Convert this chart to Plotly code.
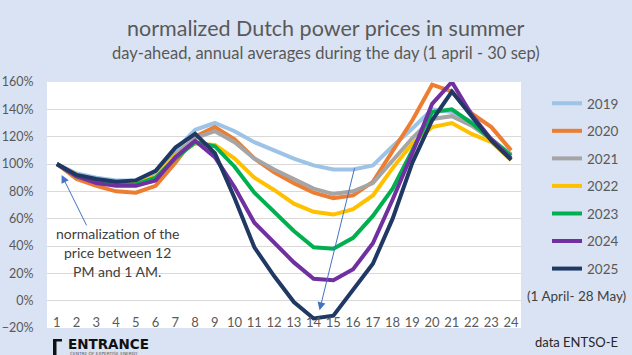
import plotly.graph_objects as go

hours = [1, 2, 3, 4, 5, 6, 7, 8, 9, 10, 11, 12, 13, 14, 15, 16, 17, 18, 19, 20, 21, 22, 23, 24]
years = ["2019", "2020", "2021", "2022", "2023", "2024", "2025"]
y2019 = [100, 93, 90, 88, 88, 93, 110, 125, 130, 124, 116, 110, 104, 99, 96, 96, 99, 113, 126, 140, 138, 131, 118, 106]
y2020 = [100, 89, 84, 80, 79, 84, 101, 120, 127, 118, 104, 94, 86, 79, 75, 77, 87, 109, 132, 158, 153, 137, 127, 110]
y2021 = [100, 92, 88, 86, 86, 91, 107, 119, 124, 116, 104, 96, 89, 82, 78, 80, 86, 102, 119, 133, 135, 128, 118, 107]
y2022 = [100, 92, 88, 86, 86, 91, 106, 115, 114, 104, 90, 81, 71, 65, 63, 67, 77, 97, 115, 127, 130, 122, 116, 103]
y2023 = [100, 91, 87, 85, 85, 90, 104, 116, 113, 98, 79, 65, 51, 39, 38, 46, 62, 82, 110, 138, 140, 130, 118, 106]
y2024 = [100, 91, 86, 84, 84, 88, 105, 117, 105, 83, 57, 42, 28, 16, 15, 23, 42, 74, 108, 144, 160, 136, 118, 104]
y2025 = [100, 92, 89, 87, 88, 95, 112, 122, 108, 75, 39, 18, -1, -13, -11, 8, 27, 60, 101, 132, 153, 135, 117, 103]
series = [y2019, y2020, y2021, y2022, y2023, y2024, y2025]
colors = ["#9DC3E6", "#ED7D31", "#A5A5A5", "#FFC000", "#00B050", "#7030A0", "#203864"]

FONT = "Lato"
TXT = "#595959"
W, H = 632, 355
L, R, T, B = 47, 111, 82, 27
PW, PH = W - L - R, H - T - B

def px(x):
    return (x - L) / PW

def py(y):
    return (H - B - y) / PH

fig = go.Figure()
for name, vals, c in zip(years, series, colors):
    fig.add_trace(go.Scatter(
        x=hours, y=vals, name=name, mode="lines", legendgroup=name,
        line=dict(color=c, width=4, shape="linear"),
    ))

ann = []
# title / subtitle
ann.append(dict(text="normalized Dutch power prices in summer", x=px(326), y=py(28),
                xref="paper", yref="paper", showarrow=False,
                font=dict(family=FONT, size=21.5, color=TXT), xanchor="center", yanchor="middle"))
ann.append(dict(text="day-ahead, annual averages during the day (1 april - 30 sep)", x=px(326), y=py(53),
                xref="paper", yref="paper", showarrow=False,
                font=dict(family=FONT, size=16.5, color=TXT), xanchor="center", yanchor="middle"))
# note text
for i, line in enumerate(["normalization of the", "price between 12", "PM and 1 AM."]):
    ann.append(dict(text=line, x=px(117), y=py(233 + 19 * i), xref="paper", yref="paper",
                    showarrow=False, font=dict(family=FONT, size=14, color="#404040"),
                    xanchor="center", yanchor="middle"))
# arrows
ann.append(dict(text="", x=1.24, y=92, ax=2.54, ay=54, xref="x", yref="y", axref="x", ayref="y",
                showarrow=True, arrowhead=2, arrowsize=1.6, arrowwidth=1, arrowcolor="#4472C4"))
ann.append(dict(text="", x=14.3, y=-7, ax=16.09, ay=98, xref="x", yref="y", axref="x", ayref="y",
                showarrow=True, arrowhead=2, arrowsize=1.6, arrowwidth=1, arrowcolor="#4472C4"))
# legend note
ann.append(dict(text="(1 April- 28 May)", x=px(576), y=py(296), xref="paper", yref="paper",
                showarrow=False, font=dict(family=FONT, size=13.5, color="#404040"),
                xanchor="center", yanchor="middle"))
# source
ann.append(dict(text="data ENTSO-E", x=px(620), y=py(342), xref="paper", yref="paper",
                showarrow=False, font=dict(family=FONT, size=13, color="#262626"),
                xanchor="right", yanchor="middle"))
# logo
ann.append(dict(text="<b>ENTRANCE</b>", x=px(66), y=py(343.5), xref="paper", yref="paper",
                showarrow=False, font=dict(family="DejaVu Sans", size=13.5, color="#111111"),
                xanchor="left", yanchor="middle"))
ann.append(dict(text="CENTRE OF EXPERTISE ENERGY", x=px(68), y=py(353), xref="paper", yref="paper",
                showarrow=False, font=dict(family="DejaVu Sans", size=4.3, color="#555555"),
                xanchor="left", yanchor="middle"))

shapes = [dict(type="path", xref="paper", yref="paper",
               path=(f"M{px(53)},{py(339)} L{px(62)},{py(339)} L{px(62)},{py(341.5)} L{px(56.5)},{py(341.5)} "
                     f"L{px(56.5)},{py(355)} L{px(53)},{py(355)} Z"),
               fillcolor="#111111", line=dict(width=0))]

fig.update_layout(
    width=W, height=H,
    margin=dict(l=L, r=R, t=T, b=B, pad=0, autoexpand=False),
    paper_bgcolor="#DAE3F3", plot_bgcolor="#FFFFFF",
    font=dict(family=FONT, color=TXT, size=13),
    showlegend=True,
    legend=dict(x=px(547), y=py(88), xanchor="left", yanchor="top", bgcolor="rgba(0,0,0,0)",
                font=dict(family=FONT, size=13.5, color=TXT), tracegroupgap=7,
                itemwidth=30, traceorder="grouped"),
    annotations=ann, shapes=shapes,
    xaxis=dict(range=[0.5, 24.5], tickmode="array", tickvals=hours, ticktext=[str(h) for h in hours],
               showgrid=False, zeroline=False, showline=False, ticks="", automargin=False,
               anchor="free", position=(H - B - 313) / PH,
               tickfont=dict(family=FONT, size=13, color=TXT), fixedrange=True),
    yaxis=dict(range=[-20, 160], dtick=20, tick0=0, ticksuffix="%", showgrid=True,
               gridcolor="#D9D9D9", gridwidth=1, zeroline=False, showline=False, automargin=False,
               ticks="outside", ticklen=10, tickcolor="rgba(0,0,0,0)",
               tickfont=dict(family=FONT, size=12.5, color=TXT), fixedrange=True),
)

fig.write_html("out.html", config={"displayModeBar": False},
               post_script="document.body.style.margin='0';document.body.style.padding='0';"
                           "document.body.style.overflow='hidden';")
